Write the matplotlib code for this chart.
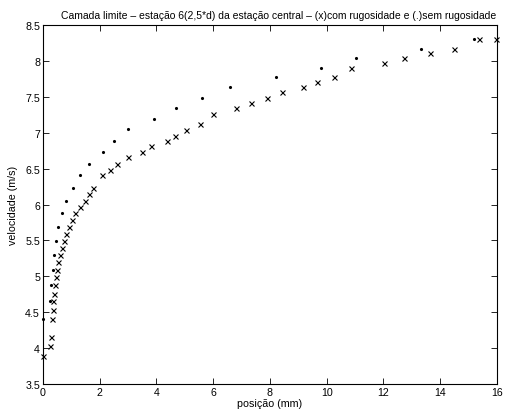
import matplotlib
matplotlib.use('Agg')
import matplotlib.pyplot as plt

plt.rcParams['font.family'] = ['Liberation Sans', 'DejaVu Sans']

# (x) com rugosidade
pos_rug = [0.0, 0.26, 0.29, 0.33, 0.36, 0.37, 0.40, 0.42, 0.46, 0.49,
           0.55, 0.60, 0.67, 0.74, 0.83, 0.92, 1.02, 1.13, 1.32, 1.47,
           1.63, 1.78, 2.08, 2.36, 2.61, 2.99, 3.48, 3.81, 4.36, 4.64,
           5.04, 5.52, 5.98, 6.80, 7.33, 7.89, 8.41, 9.17, 9.67, 10.27,
           10.87, 12.01, 12.73, 13.63, 14.49, 15.38, 15.98]
vel_rug = [3.89, 4.03, 4.16, 4.40, 4.53, 4.65, 4.76, 4.88, 4.99, 5.09,
           5.20, 5.30, 5.39, 5.49, 5.59, 5.69, 5.78, 5.88, 5.96, 6.05,
           6.15, 6.23, 6.41, 6.48, 6.56, 6.66, 6.73, 6.81, 6.88, 6.96,
           7.04, 7.12, 7.26, 7.34, 7.41, 7.48, 7.56, 7.63, 7.70, 7.77,
           7.90, 7.97, 8.04, 8.11, 8.17, 8.30, 8.30]

# (.) sem rugosidade
pos_lisa = [0.0, 0.25, 0.29, 0.35, 0.39, 0.45, 0.55, 0.66, 0.81, 1.05,
            1.31, 1.62, 2.11, 2.51, 3.01, 3.92, 4.70, 5.61, 6.61, 8.21,
            9.81, 11.02, 13.31, 15.19]
vel_lisa = [4.40, 4.65, 4.88, 5.09, 5.29, 5.49, 5.68, 5.88, 6.05, 6.23,
            6.41, 6.56, 6.73, 6.88, 7.05, 7.19, 7.34, 7.48, 7.63, 7.77,
            7.90, 8.04, 8.17, 8.30]

xticks = [0, 2, 4, 6, 8, 10, 12, 14, 16]
yticks = [3.5, 4, 4.5, 5, 5.5, 6, 6.5, 7, 7.5, 8, 8.5]
ytick_labels = ['3.5', '4', '4.5', '5', '5.5', '6', '6.5', '7', '7.5', '8', '8.5']

fig = plt.figure(figsize=(5.06, 4.14), dpi=100)
ax = fig.add_axes([0.0846, 0.070, 0.8976, 0.8672])

ax.plot(pos_rug, vel_rug, 'x', color='black', markersize=3.6, markeredgewidth=0.8, clip_on=False)
ax.plot(pos_lisa, vel_lisa, '.', color='black', markersize=2.5, clip_on=False)

ax.set_xlim(0, 16)
ax.set_ylim(3.5, 8.5)
ax.set_xticks(xticks)
ax.set_yticks(yticks)
ax.set_yticklabels(ytick_labels)
ax.tick_params(direction='in', length=4, width=0.6, top=True, right=True, labelsize=7.7, pad=2)
for s in ax.spines.values():
    s.set_linewidth(0.8)

ax.set_title('Camada limite – estação 6(2,5*d) da estação central – (x)com rugosidade e (.)sem rugosidade',
             fontsize=7.5, pad=5, x=0.52)
ax.set_xlabel('posição (mm)', fontsize=7.7, labelpad=1)
ax.set_ylabel('velocidade (m/s)', fontsize=7.7, labelpad=5)

fig.savefig('out.png', dpi=100)
